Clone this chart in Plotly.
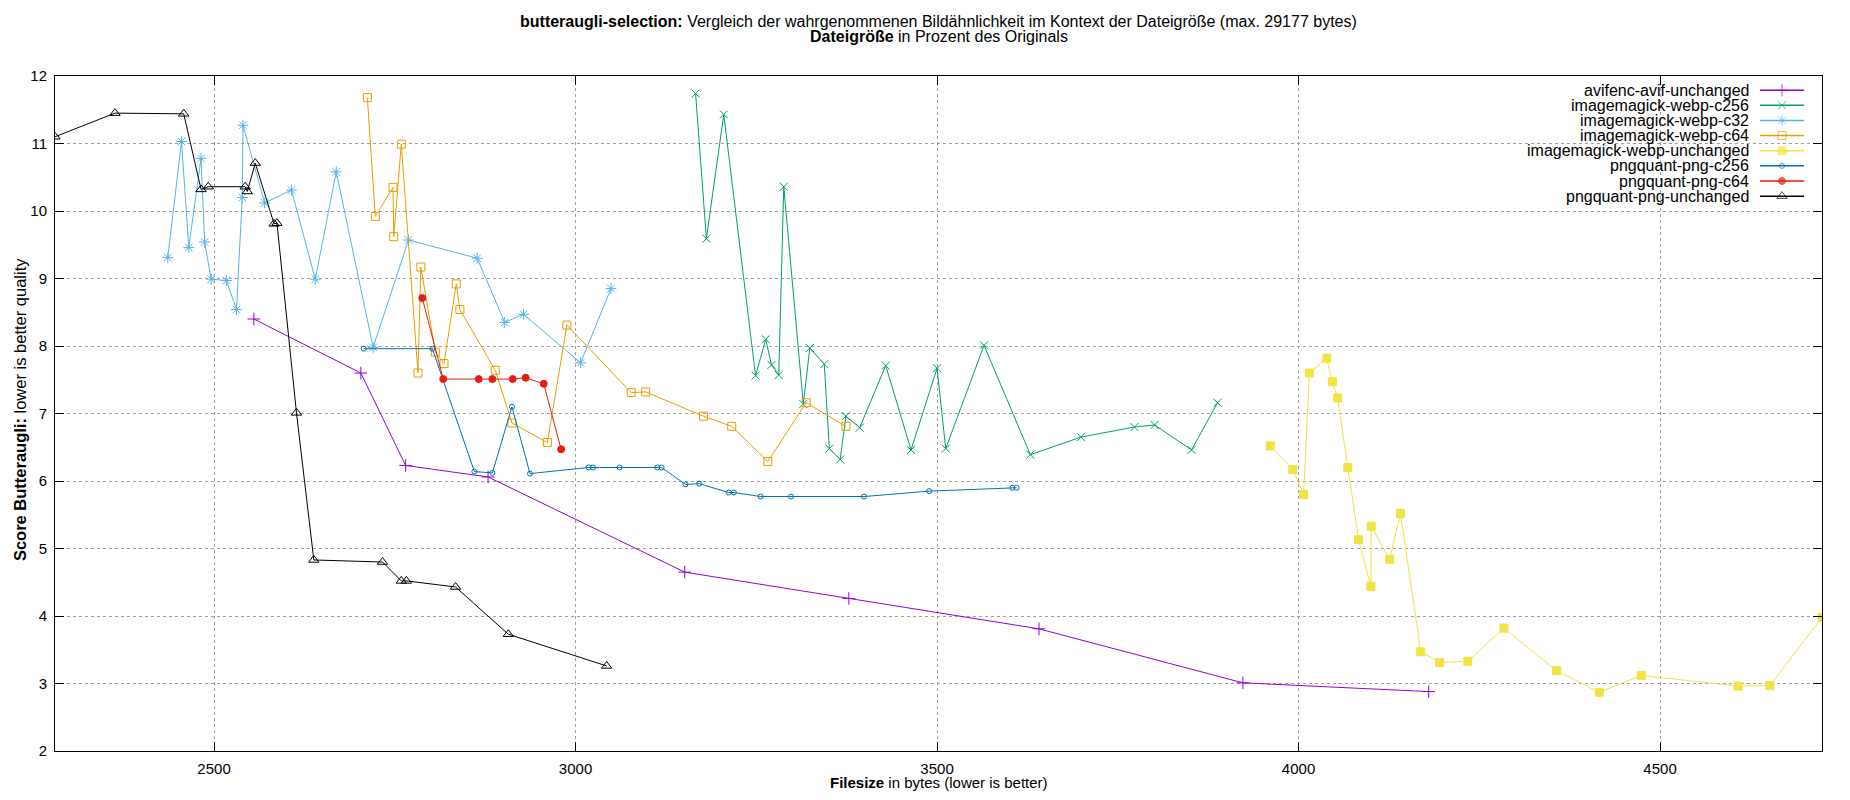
import plotly.graph_objects as go

# file size (bytes) / butteraugli score per series
avif_unchanged_x = [2555, 2703, 2765, 2879, 3151, 3378, 3641, 3923, 4180]
avif_unchanged_y = [8.40, 7.60, 6.23, 6.06, 4.65, 4.26, 3.81, 3.01, 2.88]

webp_c256_x = [3166, 3181, 3205, 3249, 3263, 3271, 3281, 3288, 3315, 3324, 3344, 3351, 3366,
               3374, 3393, 3429, 3464, 3500, 3512, 3565, 3629, 3699, 3773, 3801, 3852, 3888]
webp_c256_y = [11.74, 9.59, 11.43, 7.56, 8.10, 7.72, 7.57, 10.36, 7.14, 7.97, 7.73, 6.48, 6.32,
               6.96, 6.79, 7.71, 6.46, 7.67, 6.48, 8.01, 6.39, 6.65, 6.80, 6.83, 6.46, 7.16]

webp_c32_x = [2436, 2455, 2465, 2482, 2487, 2496, 2517, 2531, 2539, 2540, 2570,
              2607, 2640, 2669, 2720, 2769, 2864, 2902, 2928, 3007, 3049]
webp_c32_y = [9.31, 11.03, 9.46, 10.78, 9.54, 8.99, 8.97, 8.54, 10.20, 11.27, 10.12,
              10.31, 8.99, 10.58, 7.98, 9.57, 9.30, 8.35, 8.47, 7.75, 8.85]

webp_c64_x = [2712, 2723, 2747.5, 2748.5, 2759, 2782, 2786, 2806, 2818, 2835, 2840,
              2889, 2912, 2961, 2988, 3077, 3097, 3177, 3216, 3266, 3319, 3374]
webp_c64_y = [11.68, 9.92, 10.35, 9.62, 10.99, 7.60, 9.17, 7.91, 7.74, 8.92, 8.54,
              7.64, 6.86, 6.57, 8.31, 7.31, 7.32, 6.96, 6.81, 6.29, 7.16, 6.81]

webp_unchanged_x = [3961, 3992, 4007, 4015, 4039, 4047, 4054, 4068, 4083, 4100, 4100.5, 4126,
                    4141, 4169, 4195, 4234, 4284, 4357, 4416, 4474, 4608, 4652, 4724]
webp_unchanged_y = [6.52, 6.17, 5.80, 7.60, 7.82, 7.47, 7.23, 6.20, 5.13, 4.44, 5.33, 4.84,
                    5.52, 3.47, 3.31, 3.33, 3.82, 3.19, 2.87, 3.12, 2.96, 2.97, 3.98]

png_c256_x = [2707, 2802, 2860, 2885, 2912, 2937, 3018, 3024, 3061, 3113, 3119,
              3152, 3171, 3212, 3219, 3256, 3298, 3399, 3489, 3604, 3610]
png_c256_y = [7.96, 7.96, 6.14, 6.12, 7.10, 6.11, 6.20, 6.20, 6.20, 6.20, 6.20,
              5.95, 5.96, 5.83, 5.83, 5.77, 5.77, 5.77, 5.85, 5.90, 5.90]

png_c64_x = [2788, 2817, 2866, 2885, 2913, 2931, 2956, 2980]
png_c64_y = [8.71, 7.51, 7.51, 7.51, 7.51, 7.53, 7.44, 6.47]

png_unchanged_x = [2280, 2363, 2458, 2482, 2492, 2543, 2546, 2557, 2583, 2587,
                   2614, 2638, 2733, 2759, 2766, 2834, 2907, 3043]
png_unchanged_y = [11.10, 11.45, 11.44, 10.32, 10.36, 10.36, 10.29, 10.71, 9.81, 9.82,
                   7.01, 4.83, 4.80, 4.52, 4.52, 4.43, 3.73, 3.26]

y_ticks = [2, 3, 4, 5, 6, 7, 8, 9, 10, 11, 12]
x_ticks = [2500, 3000, 3500, 4000, 4500]

FONT = "Liberation Sans, Arial, sans-serif"

# name, xs, ys, colour, symbol, size
series = [
    ("avifenc-avif-unchanged", avif_unchanged_x, avif_unchanged_y, "#9400d3", "cross-thin-open", 9),
    ("imagemagick-webp-c256", webp_c256_x, webp_c256_y, "#009e73", "x-thin-open", 8),
    ("imagemagick-webp-c32", webp_c32_x, webp_c32_y, "#56b4e9", "asterisk-open", 9),
    ("imagemagick-webp-c64", webp_c64_x, webp_c64_y, "#e69f00", "square-open", 8),
    ("imagemagick-webp-unchanged", webp_unchanged_x, webp_unchanged_y, "#f0e442", "square", 8),
    ("pngquant-png-c256", png_c256_x, png_c256_y, "#0072b2", "circle-open", 5),
    ("pngquant-png-c64", png_c64_x, png_c64_y, "#e51e10", "circle", 7),
    ("pngquant-png-unchanged", png_unchanged_x, png_unchanged_y, "#000000", "triangle-up-open", 9),
]

# page is 1850x800, the html body adds an 8px margin around the figure
PAGE_OFF = 8
FIG_W, FIG_H = 1850 - 2 * PAGE_OFF, 800 - 2 * PAGE_OFF
# plot box in page pixels
plot_l, plot_r, plot_t, plot_b = 55, 1822, 75.8, 751

def px_x(px):
    return (px - plot_l) / (plot_r - plot_l)

def px_y(py):
    return 1 - (py - plot_t) / (plot_b - plot_t)

fig = go.Figure()

for name, xs, ys, col, sym, size in series:
    fig.add_trace(go.Scatter(
        x=xs, y=ys, name=name, mode="lines+markers",
        line=dict(color=col, width=1),
        marker=dict(symbol=sym, size=size, color=col, line=dict(color=col, width=1)),
        showlegend=False,
    ))

# hand-made gnuplot style key (text right, sample to the right of it)
row0, row_h = 90.0, 15.14
annotations = []
for i, (name, xs, ys, col, sym, size) in enumerate(series):
    ky = px_y(row0 + i * row_h)
    fig.add_trace(go.Scatter(
        x=[px_x(1760), px_x(1782), px_x(1804)], y=[ky, ky, ky],
        xaxis="x2", yaxis="y2", mode="lines+markers", showlegend=False,
        line=dict(color=col, width=1.5),
        marker=dict(symbol=sym, size=[0, size, 0], color=col, line=dict(color=col, width=1)),
        hoverinfo="skip",
    ))
    annotations.append(dict(
        x=px_x(1751), y=ky, xref="paper", yref="paper", text=name, showarrow=False,
        xanchor="right", yanchor="middle", font=dict(family=FONT, size=16, color="#000"),
    ))

annotations += [
    dict(x=0.5, y=px_y(21.7), xref="paper", yref="paper",
         text="<b>butteraugli-selection:</b> Vergleich der wahrgenommenen Bildähnlichkeit im Kontext der Dateigröße (max. 29177 bytes)",
         showarrow=False, xanchor="center", yanchor="middle", font=dict(family=FONT, size=16, color="#000")),
    dict(x=0.5, y=px_y(36.7), xref="paper", yref="paper",
         text="<b>Dateigröße</b> in Prozent des Originals",
         showarrow=False, xanchor="center", yanchor="middle", font=dict(family=FONT, size=16, color="#000")),
    dict(x=0.5, y=px_y(782.5), xref="paper", yref="paper",
         text="<b>Filesize</b> in bytes (lower is better)",
         showarrow=False, xanchor="center", yanchor="middle", font=dict(family=FONT, size=15, color="#000")),
    dict(x=px_x(20), y=px_y(410), xref="paper", yref="paper", textangle=-90,
         text="<b>Score Butteraugli:</b> lower is better quality",
         showarrow=False, xanchor="center", yanchor="middle", font=dict(family=FONT, size=16.5, color="#000")),
]

all_x = [v for s in series for v in s[1]]

axis_common = dict(
    showline=True, linecolor="#000", linewidth=1, mirror="allticks",
    ticks="inside", ticklen=9, tickcolor="#000", tickwidth=1,
    showgrid=True, gridcolor="#a0a0a0", griddash="dot", gridwidth=1,
    zeroline=False, tickfont=dict(family=FONT, size=15, color="#000"),
    ticklabelstandoff=4,
)

fig.update_layout(
    width=FIG_W, height=FIG_H,
    margin=dict(l=plot_l - PAGE_OFF, r=FIG_W - (plot_r - PAGE_OFF),
                t=plot_t - PAGE_OFF, b=FIG_H - (plot_b - PAGE_OFF), pad=0),
    paper_bgcolor="white", plot_bgcolor="white",
    xaxis=dict(range=[min(all_x), max(all_x)], tickvals=x_ticks, **axis_common),
    yaxis=dict(range=[2, 12], tickvals=y_ticks, **axis_common),
    xaxis2=dict(overlaying="x", range=[0, 1], visible=False),
    yaxis2=dict(overlaying="y", range=[0, 1], visible=False),
    annotations=annotations,
    shapes=[dict(type="rect", xref="paper", yref="paper", layer="between",
                 x0=px_x(1518), x1=1, y0=px_y(204), y1=1,
                 fillcolor="white", line=dict(width=0))],
    showlegend=False,
)

fig.write_html("out.html")
